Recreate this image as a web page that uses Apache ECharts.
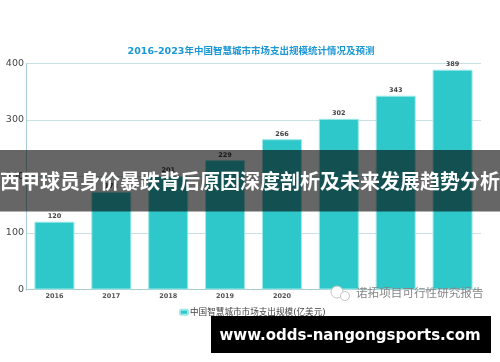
<!DOCTYPE html>
<html>
<head>
<meta charset="utf-8">
<style>html,body{margin:0;padding:0;background:#fff}#main{width:500px;height:362px}</style>
<script src="https://cdn.jsdelivr.net/npm/echarts@6/dist/echarts.min.js"></script>
</head>
<body>
<div id="main"></div>
<script>
var categories = ['2016', '2017', '2018', '2019', '2020', '2021', '2022', '2023'];
// 2021-2023 labels are covered by the watermark in the picture
var tickLabels = ['2016', '2017', '2018', '2019', '2020', '', '', ''];
var spend = [120, 173, 201, 229, 266, 302, 343, 389];

var fontCjk = '"DejaVu Sans","Noto Sans CJK SC",sans-serif';
var myChart = echarts.init(document.getElementById('main'));

var option = {
    animation: false,
    backgroundColor: '#fff',
    title: {
        text: '2016-2023年中国智慧城市市场支出规模统计情况及预测',
        left: 246, top: 42, textAlign: 'center',
        textStyle: {color: '#1b97d6', fontSize: 9.5, fontWeight: 'bold', fontFamily: fontCjk}
    },
    legend: {
        left: 174, top: 303, itemWidth: 8, itemHeight: 5, itemGap: 0,
        textStyle: {color: '#444', fontSize: 8.6, fontFamily: fontCjk, padding: [0, 0, 0, -3]}
    },
    grid: {left: 26, right: 19, top: 63.5, bottom: 72.5},
    xAxis: {
        type: 'category',
        data: categories,
        axisLine: {lineStyle: {color: '#a9ccd3'}},
        axisTick: {show: true, alignWithLabel: false, length: 1, lineStyle: {color: '#a9ccd3'}},
        axisLabel: {
            color: '#555', fontSize: 6.5, fontWeight: 'bold', margin: 4, fontFamily: fontCjk,
            formatter: function (v, i) { return tickLabels[i]; }
        }
    },
    yAxis: {
        type: 'value', min: 0, max: 400, interval: 100,
        axisLine: {show: true, lineStyle: {color: '#a9ccd3'}},
        axisTick: {show: false},
        axisLabel: {color: '#444', fontSize: 9.5, margin: 2, fontFamily: fontCjk},
        splitLine: {lineStyle: {color: '#c9e0e5'}}
    },
    series: [{
        name: '中国智慧城市市场支出规模(亿美元)',
        type: 'bar',
        data: spend,
        barWidth: 40,
        itemStyle: {color: '#2ec8cb', borderColor: '#9ce8e8', borderWidth: 1},
        label: {show: true, position: 'top', distance: 2, color: '#444', fontSize: 6.5, fontWeight: 'bold', fontFamily: fontCjk}
    }],
    graphic: [
        // 水印
        {type: 'circle', z: 50, shape: {cx: 337, cy: 292, r: 6}, style: {fill: '#fff', stroke: '#c4c4c4', lineWidth: 1}},
        {type: 'circle', z: 51, shape: {cx: 345, cy: 296, r: 4.5}, style: {fill: '#fff', stroke: '#c4c4c4', lineWidth: 1}},
        {type: 'text', z: 50, x: 356, y: 287, style: {text: '诺拓项目可行性研究报告', fill: '#858585', fontSize: 11.6, fontFamily: '"Noto Sans CJK SC"'}},
        // 横幅
        {type: 'rect', z: 60, shape: {x: 0, y: 150, width: 500, height: 61.5}, style: {fill: 'rgba(0,0,0,0.6)'}},
        {type: 'text', z: 61, x: 250, y: 181, style: {text: '西甲球员身价暴跌背后原因深度剖析及未来发展趋势分析', fill: '#fff', fontSize: 20, fontWeight: 'bold', align: 'center', verticalAlign: 'middle', fontFamily: '"Noto Sans CJK SC"'}},
        {type: 'rect', z: 60, shape: {x: 211, y: 316, width: 280, height: 37}, style: {fill: '#000'}},
        {type: 'text', z: 61, x: 350, y: 336, style: {text: 'www.odds-nangongsports.com', fill: '#fff', fontSize: 15, fontWeight: 'bold', align: 'center', verticalAlign: 'middle', fontFamily: '"DejaVu Sans"'}}
    ]
};

myChart.setOption(option, true);
</script>
</body>
</html>
